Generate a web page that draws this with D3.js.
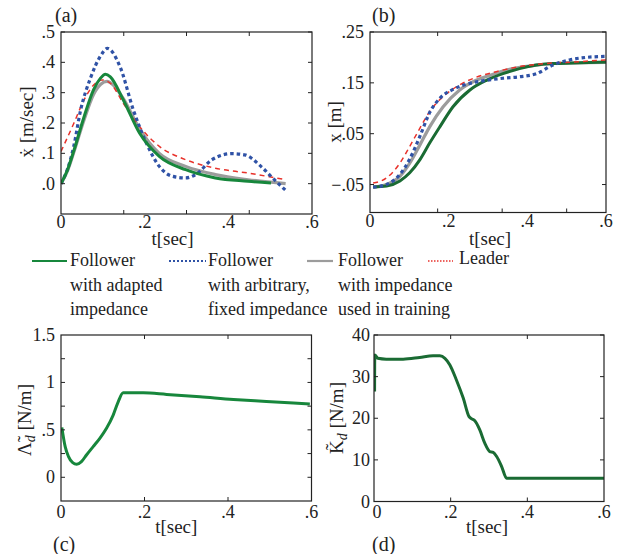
<!DOCTYPE html>
<html><head><meta charset="utf-8">
<script src="https://cdn.jsdelivr.net/npm/d3@7"></script>
</head>
<body style="margin:0"><svg id="c" width="634" height="554" font-family="Times New Roman"></svg>
<script>
// ---------- DATA ----------
// Panel (a): velocity [m/sec] vs t[sec]
const aAdapted = [[0,0],[0.0157,0.046],[0.031,0.11],[0.055,0.22],[0.078,0.31],[0.094,0.347],[0.106,0.361],[0.118,0.352],[0.149,0.276],[0.188,0.166],[0.235,0.09],[0.298,0.046],[0.369,0.019],[0.447,0.008],[0.502,0.002]];
const aArbitrary = [[0,0],[0.016,0.05],[0.03,0.12],[0.047,0.243],[0.071,0.35],[0.094,0.42],[0.111,0.446],[0.141,0.386],[0.173,0.243],[0.204,0.134],[0.235,0.057],[0.267,0.024],[0.298,0.019],[0.322,0.03],[0.361,0.079],[0.408,0.099],[0.439,0.095],[0.478,0.057],[0.51,0.013],[0.537,-0.022]];
const aTraining = [[0,0],[0.016,0.044],[0.031,0.105],[0.055,0.21],[0.078,0.295],[0.095,0.328],[0.11,0.337],[0.125,0.325],[0.149,0.28],[0.188,0.18],[0.235,0.1],[0.298,0.057],[0.369,0.03],[0.447,0.013],[0.537,0.0]];
const aLeader = [[0,0.106],[0.031,0.2],[0.055,0.276],[0.078,0.325],[0.098,0.342],[0.118,0.331],[0.149,0.265],[0.188,0.188],[0.235,0.123],[0.298,0.079],[0.369,0.051],[0.447,0.035],[0.537,0.013]];
// Panel (b): position [m] vs t[sec]
const bAdapted = [[0.008,-0.055],[0.042,-0.053],[0.076,-0.043],[0.101,-0.027],[0.127,-0.001],[0.152,0.032],[0.178,0.064],[0.211,0.103],[0.254,0.136],[0.296,0.155],[0.338,0.168],[0.38,0.178],[0.423,0.185],[0.465,0.188],[0.516,0.189],[0.6,0.191]];
const bArbitrary = [[0.008,-0.055],[0.042,-0.05],[0.076,-0.03],[0.101,0.0],[0.127,0.045],[0.152,0.092],[0.178,0.12],[0.211,0.137],[0.254,0.149],[0.296,0.155],[0.338,0.159],[0.38,0.162],[0.423,0.168],[0.465,0.185],[0.507,0.195],[0.549,0.2],[0.6,0.202]];
const bTraining = [[0.008,-0.055],[0.042,-0.05],[0.076,-0.034],[0.101,-0.008],[0.127,0.028],[0.152,0.064],[0.186,0.103],[0.228,0.136],[0.27,0.155],[0.313,0.167],[0.363,0.178],[0.423,0.185],[0.507,0.189],[0.6,0.19]];
const bLeader = [[0.008,-0.047],[0.042,-0.037],[0.076,-0.008],[0.101,0.025],[0.127,0.061],[0.152,0.094],[0.186,0.123],[0.228,0.146],[0.27,0.161],[0.321,0.172],[0.38,0.182],[0.448,0.188],[0.516,0.191],[0.6,0.195]];
// Panel (c): Lambda_d [N/m]
const cLambda = [[0.002,0.526],[0.01,0.323],[0.018,0.218],[0.028,0.154],[0.0375,0.137],[0.049,0.165],[0.061,0.235],[0.077,0.323],[0.093,0.41],[0.109,0.516],[0.125,0.656],[0.137,0.796],[0.149,0.89],[0.197,0.89],[0.253,0.874],[0.333,0.849],[0.413,0.821],[0.492,0.8],[0.596,0.772]];
// Panel (d): K_d [N/m]
const dK = [[0.0015,26.4],[0.002,35.2],[0.01,34.4],[0.032,34.2],[0.076,34.2],[0.119,34.6],[0.154,35],[0.172,35],[0.185,34.4],[0.198,32.8],[0.215,29.2],[0.233,24.8],[0.248,20.4],[0.254,19.9],[0.263,19.4],[0.276,17.2],[0.289,14],[0.302,12],[0.311,11.8],[0.32,10.8],[0.333,8.4],[0.346,5.6],[0.6,5.6]];
// ticks
const xLabelVals = [0,0.2,0.4,0.6];
const xLabelText = ["0",".2",".4",".6"];
const aXTickMarks = [0.15,0.3,0.45];
const bXTickMarks = [0.172,0.336,0.5];
const cdXTickMarks = [0.2,0.4];
const aYVals = [0.5,0.4,0.3,0.2,0.1,0.0];
const aYText = [".5",".4",".3",".2",".1",".0"];
const bYVals = [0.25,0.15,0.05,-0.05];
const bYText = [".25",".15",".05","\u2212.05"];
const cYVals = [1.5,1,0.5,0];
const cYText = ["1.5","1",".5","0"];
const cYTickMarks = [1.25,1,0.75,0.5,0.25,0];
const dYVals = [40,30,20,10,0];
const dYText = ["40","30","20","10","0"];
const legendNames = [["Follower","with adapted","impedance"],["Follower","with arbitrary,","fixed impedance"],["Follower","with impedance","used in training"],["Leader"]];

// ---------- STYLES ----------
const SERIF = "Times New Roman";
const GREEN="#17873c", DGREEN="#1a6b33", BLUE="#2f52a6", GRAY="#9c9c9c", RED="#e8322b";
const styles = {
  adapted:{stroke:GREEN,w:3,dash:null},
  arbitrary:{stroke:BLUE,w:3.2,dash:"3.5,3"},
  training:{stroke:GRAY,w:3.2,dash:null},
  leader:{stroke:RED,w:1.5,dash:"5,4"}
};
const svg = d3.select("#c");
const FS = 18;
function txt(sel){ return sel.append("text").attr("font-family",SERIF).style("font-family","'Times New Roman', 'Liberation Serif', serif").attr("fill","#222"); }

function panel(p){
  const g = svg.append("g");
  const x = d3.scaleLinear().domain([0,0.6]).range([p.x0,p.x1]);
  const y = d3.scaleLinear().domain(p.yd).range([p.y1,p.y0]);
  const line = d3.line().x(d=>x(d[0])).y(d=>y(d[1])).curve(d3.curveMonotoneX);
  const clipId = "clip"+p.id;
  svg.append("clipPath").attr("id",clipId).append("rect")
    .attr("x",p.x0).attr("y",p.y0).attr("width",p.x1-p.x0).attr("height",p.y1-p.y0);
  const lg = g.append("g").attr("clip-path","url(#"+clipId+")");
  p.series.forEach(s=>{
    const st = s.style;
    lg.append("path").attr("d",line(s.data)).attr("fill","none")
      .attr("stroke",st.stroke).attr("stroke-width",st.w)
      .attr("stroke-dasharray",st.dash).attr("stroke-linejoin","round");
  });
  g.append("rect").attr("x",p.x0).attr("y",p.y0).attr("width",p.x1-p.x0).attr("height",p.y1-p.y0)
    .attr("fill","none").attr("stroke","#222").attr("stroke-width",1.2);
  p.xTicks.forEach(t=>{
    g.append("line").attr("x1",x(t)).attr("x2",x(t)).attr("y1",p.y1).attr("y2",p.y1-4).attr("stroke","#222");
    g.append("line").attr("x1",x(t)).attr("x2",x(t)).attr("y1",p.y0).attr("y2",p.y0+4).attr("stroke","#222");
  });
  p.yTicks.forEach(t=>{
    g.append("line").attr("x1",p.x0).attr("x2",p.x0+4).attr("y1",y(t)).attr("y2",y(t)).attr("stroke","#222");
    g.append("line").attr("x1",p.x1).attr("x2",p.x1-4).attr("y1",y(t)).attr("y2",y(t)).attr("stroke","#222");
  });
  xLabelVals.forEach((v,i)=>{
    txt(g).attr("x",x(v)+(i===0?p.x0Off:0)).attr("y",p.xLabY).attr("text-anchor","middle")
      .attr("font-size",FS).text(xLabelText[i]);
  });
  p.yVals.forEach((v,i)=>{
    txt(g).attr("x",p.yLabX).attr("y",y(v)+6).attr("text-anchor","end")
      .attr("font-size",FS).text(p.yText[i]);
  });
  txt(g).attr("x",(p.x0+p.x1)/2+p.xtOff).attr("y",p.xTitleY).attr("text-anchor","middle")
    .attr("font-size",19).text("t[sec]");
  const yt = txt(g).attr("transform",`translate(${p.ytX},${p.ytY}) rotate(-90)`)
    .attr("text-anchor","middle").attr("font-size",19);
  p.yTitle(yt);
  txt(g).attr("x",p.tagX).attr("y",p.tagY).attr("font-size",20).text(p.tag);
}

function subTitle(sym){
  return t=>{
    t.append("tspan").text(sym);
    t.append("tspan").attr("font-size",14).attr("dy",4).attr("font-style","italic").text("d");
    t.append("tspan").attr("dy",-4).text(" [N/m]");
  };
}

panel({id:"a",x0:61,x1:312,y0:32,y1:214,yd:[-0.1,0.5],
  series:[{data:aTraining,style:styles.training},{data:aLeader,style:styles.leader},{data:aArbitrary,style:styles.arbitrary},{data:aAdapted,style:styles.adapted}],
  xTicks:aXTickMarks,yTicks:aYVals,yVals:aYVals,yText:aYText,yLabX:55,xLabY:228,x0Off:0,xTitleY:245,xtOff:-14,
  ytX:33,ytY:122,yTitle:t=>t.text("\u1E8B [m/sec]"),tag:"(a)",tagX:55,tagY:22});
panel({id:"b",x0:370,x1:606,y0:32,y1:212.5,yd:[-0.105,0.25],
  series:[{data:bTraining,style:styles.training},{data:bAdapted,style:{stroke:DGREEN,w:3,dash:null}},{data:bLeader,style:styles.leader},{data:bArbitrary,style:styles.arbitrary}],
  xTicks:bXTickMarks,yTicks:bYVals,yVals:bYVals,yText:bYText,yLabX:364,xLabY:227,x0Off:0,xTitleY:245,xtOff:2,
  ytX:341,ytY:122,yTitle:t=>t.text("x [m]"),tag:"(b)",tagX:372,tagY:22});
panel({id:"c",x0:61,x1:311.5,y0:335,y1:501,yd:[-0.25,1.5],
  series:[{data:cLambda,style:{stroke:GREEN,w:3,dash:null}}],
  xTicks:cdXTickMarks,yTicks:cYTickMarks,yVals:cYVals,yText:cYText,yLabX:55,xLabY:518,x0Off:0,xTitleY:533,xtOff:-10,
  ytX:31,ytY:420,yTitle:subTitle("\u039B\u0303"),tag:"(c)",tagX:53,tagY:551});
panel({id:"d",x0:374,x1:604,y0:335,y1:501.5,yd:[0,40],
  series:[{data:dK,style:{stroke:DGREEN,w:3,dash:null}}],
  xTicks:cdXTickMarks,yTicks:dYVals,yVals:dYVals,yText:dYText,yLabX:370,xLabY:518,x0Off:3,xTitleY:533,xtOff:-2,
  ytX:343,ytY:418,yTitle:subTitle("K\u0303"),tag:"(d)",tagX:372,tagY:551});

// ---------- LEGEND ----------
const legItems = [
  {x1:32,x2:67,tx:70,style:{stroke:GREEN,w:2.2,dash:null}},
  {x1:169,x2:206,tx:208,style:{stroke:BLUE,w:2.2,dash:"2,2"}},
  {x1:307,x2:333,tx:338,style:{stroke:GRAY,w:2.2,dash:null}},
  {x1:428,x2:453,tx:459,style:{stroke:RED,w:1.6,dash:"1.5,1.5"}}
];
legItems.forEach((it,i)=>{
  svg.append("line").attr("x1",it.x1).attr("x2",it.x2).attr("y1",261).attr("y2",261)
    .attr("stroke",it.style.stroke).attr("stroke-width",it.style.w).attr("stroke-dasharray",it.style.dash);
  legendNames[i].forEach((s,j)=>{
    txt(svg).attr("x",it.tx).attr("y",(i===3?264:266)+j*24.5).attr("font-size",18).text(s);
  });
});
</script></body></html>
